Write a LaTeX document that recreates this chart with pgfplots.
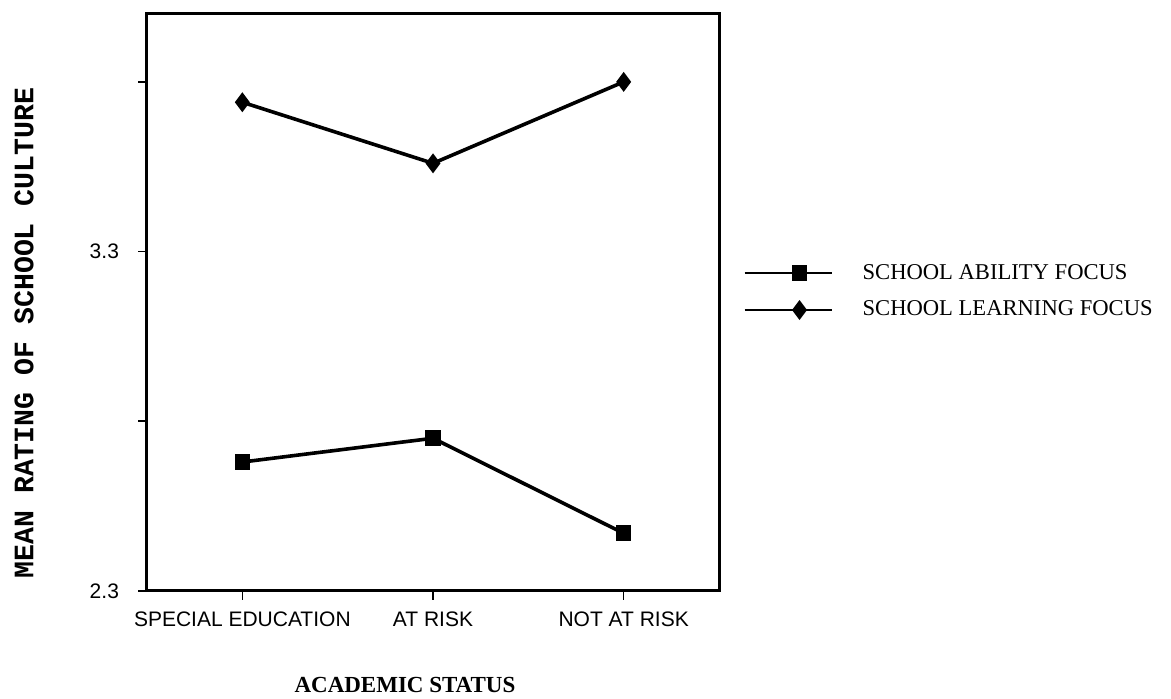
\documentclass[border=0pt]{standalone}
\usepackage{pgfplots}
\pgfplotsset{compat=1.18}
\usepackage{fontspec}
\setmainfont{Liberation Serif}
\newfontfamily\arial{Liberation Sans}
\newfontfamily\mono{Liberation Mono}

\begin{document}
\begin{tikzpicture}
\begin{axis}[
    scale only axis,
    width=286pt, height=288.5pt,
    xmin=-0.5, xmax=2.5,
    ymin=2.3, ymax=4.0,
    xtick={0,1,2},
    xticklabels={SPECIAL EDUCATION, AT RISK, NOT AT RISK},
    ytick={2.3,2.8,3.3,3.8},
    yticklabels={2.3,,3.3,},
    xtick pos=bottom, ytick pos=left,
    tick align=outside,
    major tick length=4.5pt,
    tick style={black, line width=0.8pt},
    axis line style={line width=1.5pt},
    tick label style={font=\arial\fontsize{10.5}{12}\selectfont},
    xticklabel style={yshift=-2.5pt},
    yticklabel style={xshift=-6pt},
    xlabel={\textbf{ACADEMIC STATUS}},
    xlabel style={font=\fontsize{11.5}{13}\selectfont, at={(axis description cs:0.451,-0.176)}, anchor=base},
    ylabel={\textbf{MEAN RATING OF SCHOOL CULTURE}},
    ylabel style={font=\mono\fontsize{14.1}{16}\selectfont, at={(axis description cs:-0.215,0.447)}, anchor=center, rotate=0},
    legend style={at={(axis description cs:1.042,0.519)}, anchor=west, draw=none, fill=none,
        font=\fontsize{11.3}{13}\selectfont, inner sep=0pt, row sep=9.5pt, column sep=15pt,
        nodes={inner sep=0pt}},
    legend cell align=left,
    legend image code/.code={
        \draw[#1, mark=none, line width=1.1pt] (0pt,0pt) -- (43.5pt,0pt);
        \draw[#1, only marks] plot coordinates {(27.5pt,0pt)};
    },
]
\addplot[black, line width=1.8pt, mark=square*, mark size=3pt] coordinates {
    (0,2.68) (1,2.75) (2,2.47)
};
\addlegendentry{SCHOOL ABILITY FOCUS}
\addplot[black, line width=1.8pt, mark=diamond*, mark size=3.5pt] coordinates {
    (0,3.74) (1,3.56) (2,3.80)
};
\addlegendentry{SCHOOL LEARNING FOCUS}
\end{axis}
\pgfresetboundingbox
\path[use as bounding box] (-73.5pt,-54pt) rectangle (512pt,295.5pt);
\end{tikzpicture}
\end{document}
